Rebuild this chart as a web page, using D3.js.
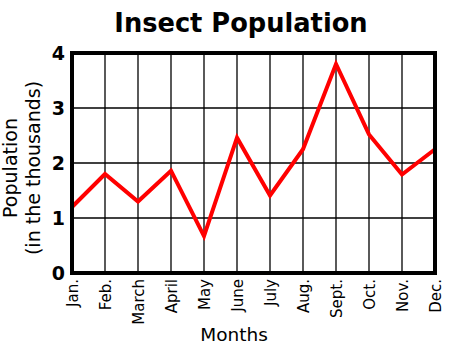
<!DOCTYPE html>
<html><head><meta charset="utf-8">
<script src="https://cdn.jsdelivr.net/npm/d3@7"></script>
<style>body{margin:0;background:#fff}svg{display:block}</style>
</head><body><svg id="c" width="454" height="350"></svg>
<script>
const months = ["Jan.","Feb.","March","April","May","June","July","Aug.","Sept.","Oct.","Nov.","Dec."];
const population = [1.2, 1.8, 1.3, 1.86, 0.67, 2.46, 1.41, 2.25, 3.8, 2.52, 1.79, 2.25];
const yTicks = [0, 1, 2, 3, 4];

const svg = d3.select("#c");
const m = {l:72, r:435, t:53, b:273};
const x = d3.scalePoint().domain(months).range([m.l, m.r]);
const y = d3.scaleLinear().domain([0, 4]).range([m.b, m.t]);
const font = "DejaVu Sans, Verdana, sans-serif";

svg.append("text").attr("x", 241).attr("y", 32).attr("text-anchor","middle")
  .attr("font-family", font).attr("font-weight","bold").attr("font-size", 25.7).text("Insect Population");

// grid
svg.append("g").selectAll("line").data(months).join("line")
  .attr("x1", d=>x(d)).attr("x2", d=>x(d)).attr("y1", m.t).attr("y2", m.b)
  .attr("stroke","#000").attr("stroke-width",1.3);
svg.append("g").selectAll("line").data(yTicks).join("line")
  .attr("x1", m.l).attr("x2", m.r).attr("y1", d=>y(d)).attr("y2", d=>y(d))
  .attr("stroke","#000").attr("stroke-width",1.3);

// line
svg.append("path").datum(population)
  .attr("d", d3.line().x((d,i)=>x(months[i])).y(d=>y(d)))
  .attr("fill","none").attr("stroke","#ff0000").attr("stroke-width",4).attr("stroke-linejoin","miter");

// frame
svg.append("rect").attr("x", m.l).attr("y", m.t).attr("width", m.r-m.l).attr("height", m.b-m.t)
  .attr("fill","none").attr("stroke","#000").attr("stroke-width",4);

// y ticks
const ya = d3.axisLeft(y).tickValues(yTicks).tickSize(0).tickPadding(0).tickFormat(d3.format("d"));
const yg = svg.append("g").attr("transform", `translate(${m.l-7},0)`).call(ya);
yg.select(".domain").remove();
yg.selectAll("text").attr("font-family", font).attr("font-weight","bold").attr("font-size",19).attr("fill","#000").attr("dy","0.36em");

// x ticks
const xa = d3.axisBottom(x).tickSize(0).tickPadding(0);
const xg = svg.append("g").attr("transform", `translate(0,${m.b+6})`).call(xa);
xg.select(".domain").remove();
xg.selectAll("text").attr("font-family", font).attr("font-size",15).attr("fill","#000")
  .attr("text-anchor","end").attr("dy",null).attr("y",0)
  .attr("transform","rotate(-90)").attr("x",0).attr("dx",0)
  .attr("dominant-baseline","central");

// axis titles
svg.append("text").attr("x", 234).attr("y", 341).attr("text-anchor","middle")
  .attr("font-family", font).attr("font-size",18.5).text("Months");
const yt = svg.append("text").attr("transform","translate(17,168) rotate(-90)").attr("text-anchor","middle")
  .attr("font-family", font).attr("font-size",19);
yt.append("tspan").attr("x",0).attr("y",0).text("Population");
yt.append("tspan").attr("x",0).attr("y",23).text("(in the thousands)");
</script></body></html>
